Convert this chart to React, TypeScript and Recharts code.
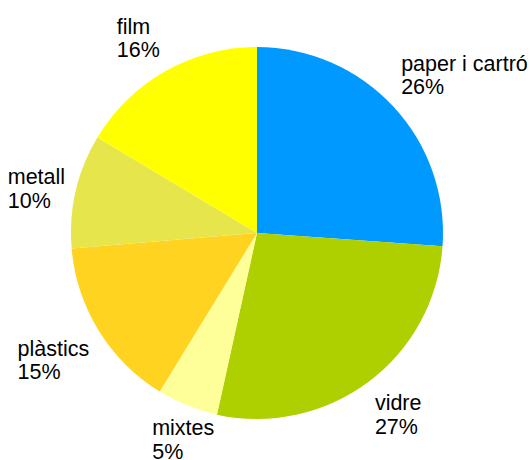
import React from 'react'
import { PieChart, Pie, Cell } from 'recharts'

const categories = ['paper i cartró', 'vidre', 'mixtes', 'plàstics', 'metall', 'film']
const shares = [26.1, 27.3, 5.3, 14.9, 9.9, 16.4]
const colors = ['#0099FF', '#AECF00', '#FFFF99', '#FFD320', '#E6E64C', '#FFFF00']

const data = categories.map((name, i) => ({ name, value: shares[i] }))

const FONT_SIZE = 21.5
const LINE_H = 23.5
const ASCENT = FONT_SIZE * 0.905
const DESCENT = FONT_SIZE * 0.212
const FAMILY = '"Liberation Sans", Arial, sans-serif'

let ctx: CanvasRenderingContext2D | null = null
const measure = (s: string) => {
  if (!ctx) ctx = document.createElement('canvas').getContext('2d')
  if (!ctx) return s.length * FONT_SIZE * 0.55
  ctx.font = `${FONT_SIZE}px ${FAMILY}`
  return ctx.measureText(s).width
}

const RADIAN = Math.PI / 180

// label box is hung off an anchor point just outside the pie; which corner/edge
// touches the anchor depends on the 45° sector the slice's middle falls in
const renderLabel = (props: any) => {
  const { cx, cy, midAngle, outerRadius, percent, name } = props
  const lines = [name, `${Math.round(percent * 100)}%`]
  const w = Math.max(...lines.map(measure))
  const h = ASCENT + LINE_H + DESCENT
  const a = ((midAngle % 360) + 360) % 360
  const r = outerRadius + 11
  const ax = cx + r * Math.cos(a * RADIAN)
  const ay = cy - r * Math.sin(a * RADIAN)

  let hor = 'center'
  let ver = 'middle'
  if (a <= 22.5 || a > 337.5) hor = 'right'
  else if (a <= 67.5) { hor = 'right'; ver = 'top' }
  else if (a <= 112.5) ver = 'top'
  else if (a <= 157.5) { hor = 'left'; ver = 'top' }
  else if (a <= 202.5) hor = 'left'
  else if (a <= 247.5) { hor = 'left'; ver = 'bottom' }
  else if (a <= 292.5) ver = 'bottom'
  else { hor = 'right'; ver = 'bottom' }

  const x0 = hor === 'right' ? ax : hor === 'left' ? ax - w : ax - w / 2
  const top = ver === 'top' ? ay - h : ver === 'bottom' ? ay : ay - h / 2
  const y0 = top + ASCENT

  return (
    <text x={x0} y={y0} fill="#000" fontSize={FONT_SIZE} fontFamily={FAMILY} textAnchor="start">
      <tspan x={x0} y={y0}>{lines[0]}</tspan>
      <tspan x={x0} y={y0 + LINE_H}>{lines[1]}</tspan>
    </text>
  )
}

export default function App() {
  return (
    <div style={{ position: 'absolute', left: 0, top: 0, width: 530, height: 460, background: '#fff' }}>
      <PieChart width={530} height={460} margin={{ top: 0, right: 0, bottom: 0, left: 0 }}>
        <Pie
          data={data}
          dataKey="value"
          nameKey="name"
          cx={257}
          cy={233}
          outerRadius={186}
          startAngle={90}
          endAngle={-270}
          stroke="none"
          label={renderLabel}
          labelLine={false}
          isAnimationActive={false}
        >
          {data.map((d, i) => (
            <Cell key={d.name} fill={colors[i]} />
          ))}
        </Pie>
      </PieChart>
    </div>
  )
}
